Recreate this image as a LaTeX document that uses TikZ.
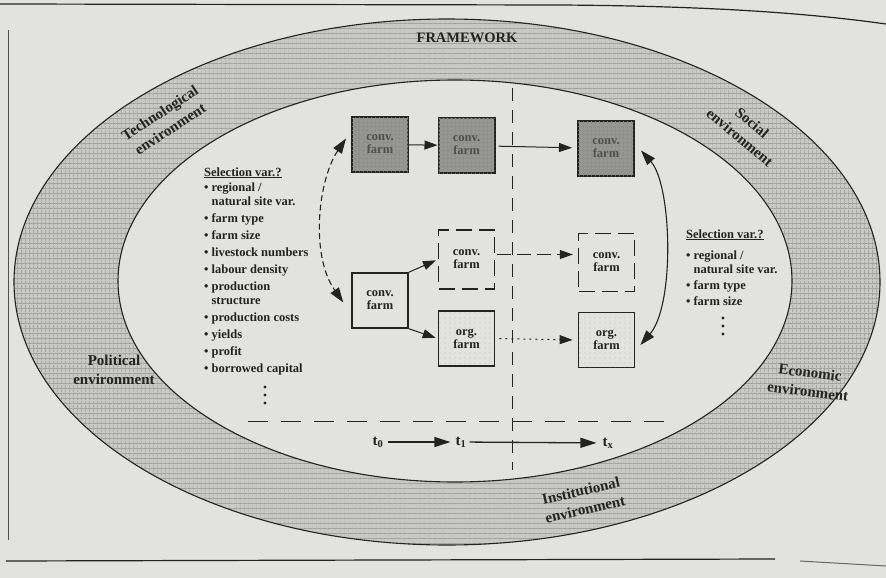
\documentclass[tikz,border=0pt]{standalone}
\usepackage{fontspec}
\setmainfont{Liberation Serif}
\usetikzlibrary{arrows.meta,patterns.meta,calc}
\definecolor{paper}{RGB}{226,226,224}
\definecolor{ring}{RGB}{200,200,198}
\definecolor{ringline}{RGB}{145,145,143}
\definecolor{boxdark}{RGB}{150,150,148}
\definecolor{ink}{RGB}{35,35,35}
\tikzset{
  lab/.style={font=\bfseries\fontsize{15}{19}\selectfont, align=center, text=ink, inner sep=0pt},
  farmtxt/.style={font=\bfseries\fontsize{12.5}{13}\selectfont, align=center, text=ink},
  boxbase/.style={farmtxt, minimum width=56pt, minimum height=55pt, inner sep=0pt},
  darkbox/.style={boxbase, draw=ink, line width=2pt, fill=boxdark, text=ink!80,
    postaction={pattern={Hatch[angle=0,distance=4pt,line width=0.6pt]}, pattern color=black!45}},
  plainbox/.style={boxbase, draw=ink, line width=1.4pt},
  dashbox/.style={boxbase, draw=ink, line width=1.4pt, dash pattern=on 16pt off 7pt},
  orgbox/.style={boxbase, draw=ink, line width=1.8pt,
    postaction={pattern={Dots[distance=5pt,radius=0.45pt]}, pattern color=black!45}},
  listtxt/.style={font=\bfseries\fontsize{12.5}{14}\selectfont, text=ink, inner sep=0pt, anchor=base west},
  arr/.style={-{Triangle[length=13pt,width=9pt]}, line width=1pt, draw=ink},
  tarr/.style={-{Triangle[length=16pt,width=10pt]}, line width=1.3pt, draw=ink},
  bigarr/.style={{Triangle[length=15pt,width=10pt]}-{Triangle[length=15pt,width=10pt]}, line width=1.1pt, draw=ink},
  tlab/.style={font=\bfseries\fontsize{15}{16}\selectfont, text=ink, inner sep=2pt},
  dotmark/.style={ink}
}
\begin{document}
\begin{tikzpicture}[x=1pt,y=-1pt]
\useasboundingbox (0,0) rectangle (886,578);
\fill[paper] (0,0) rectangle (886,578);

% page rules of the scan
\draw[line width=1.2pt, ink] (0,4) -- (560,5) .. controls (700,6) and (800,12) .. (886,24);
\draw[line width=0.8pt, ink!80] (8,30) -- (8,540);
\draw[line width=1.2pt, ink] (6,561) -- (775,559);
\draw[line width=1pt, ink!70] (800,561) -- (886,566);

% environment ring
\fill[ring, even odd rule] (447,282) ellipse [x radius=433pt, y radius=263pt]
                           (455,281) ellipse [x radius=337pt, y radius=201pt];
\path[even odd rule, pattern={Lines[angle=90,distance=4pt,line width=0.75pt]}, pattern color=ringline]
     (447,282) ellipse [x radius=433pt, y radius=263pt]
     (455,281) ellipse [x radius=337pt, y radius=201pt];
\path[even odd rule, pattern={Lines[angle=0,distance=5pt,line width=0.55pt]}, pattern color=ringline!85]
     (447,282) ellipse [x radius=433pt, y radius=263pt]
     (455,281) ellipse [x radius=337pt, y radius=201pt];
\draw[ink, line width=1.1pt] (447,282) ellipse [x radius=433pt, y radius=263pt];
\draw[ink, line width=1.1pt] (455,281) ellipse [x radius=337pt, y radius=201pt];

% ring labels
\node[lab] (fw) at (467,38) {\fontsize{14.5}{16}\selectfont FRAMEWORK};
\node[lab, rotate=33] (tech) at (165,121) {Technological\\environment};
\node[lab, rotate=-40] (soc) at (746,130) {Social\\environment};
\node[lab] (pol) at (114,370) {Political\\environment};
\node[lab, rotate=-7] (eco) at (809,382) {Economic\\environment};
\node[lab, rotate=13] (inst) at (583,500) {Institutional\\environment};

% separators
\coordinate (vtop) at (512,88);
\coordinate (vbot) at (512,470);
\draw[ink, line width=1pt, dash pattern=on 13pt off 9pt] (vtop) -- (vbot);
\coordinate (hl) at (248,421);
\coordinate (hr) at (668,421);
\draw[ink, line width=1pt, dash pattern=on 20pt off 13pt] (hl) -- (hr);

% farm boxes
\node[darkbox] (c1) at (380,144.5) {conv.\\farm};
\node[darkbox] (c2) at (466.5,145.5) {conv.\\farm};
\node[darkbox] (c3) at (606,148.5) {conv.\\farm};
\node[plainbox] (s0) at (380,300.5) {conv.\\farm};
\node[dashbox, minimum height=59pt] (m1) at (466.5,259.5) {conv.\\farm};
\node[orgbox] (o1) at (466.5,338.5) {org.\\farm};
\node[dashbox, minimum height=58pt] (m2) at (606.5,262.5) {conv.\\farm};
\node[orgbox] (o2) at (606.5,340) {org.\\farm};

% flows between boxes
\draw[arr] (c1) -- (c2);
\draw[arr, shorten <=3pt, shorten >=5pt] (c2) -- (c3);
\draw[arr, shorten >=2pt] (s0.north east) -- (m1.west);
\draw[arr, shorten >=2pt] (s0.south east) -- (o1.west);
\draw[arr, dash pattern=on 14pt off 6pt, shorten >=5pt]
     ($(m1.east)+(2,-5)$) -- ($(m2.west)+(0,-8)$);
\draw[arr, dash pattern=on 2pt off 4pt, shorten <=4pt, shorten >=5pt] (o1.east) -- (o2.west);

% curved arrows
\draw[bigarr, dash pattern=on 6pt off 3.5pt]
     ($(c1.west)+(-5,-6)$) .. controls (318,180) and (310,255) .. ($(s0.west)+(-8,2)$);
\draw[bigarr]
     ($(c3.east)+(6,2)$) .. controls (672,185) and (675,305) .. ($(o2.east)+(5,5)$);

% time axis
\node[tlab] (t0) at (378,442) {t\textsubscript{0}};
\node[tlab] (t1) at (461,442) {t\textsubscript{1}};
\node[tlab] (tx) at (608,443) {t\textsubscript{x}};
\draw[tarr, shorten <=2pt, shorten >=3pt] (t0) -- (t1);
\draw[tarr, shorten <=1pt, shorten >=4pt] (t1) -- (tx);

% selection variables, left
\node[listtxt] (selL) at (204,176) {%
\begin{tabular}[t]{@{}l@{\hspace{3pt}}l@{}}
\multicolumn{2}{@{}l@{}}{\underline{Selection var.?}}\\[1pt]
\textbullet & regional /\\
 & natural site var.\\[3pt]
\textbullet & farm type\\[3pt]
\textbullet & farm size\\[3pt]
\textbullet & livestock numbers\\[3pt]
\textbullet & labour density\\[3pt]
\textbullet & production\\
 & structure\\[3pt]
\textbullet & production costs\\[3pt]
\textbullet & yields\\[3pt]
\textbullet & profit\\[3pt]
\textbullet & borrowed capital
\end{tabular}};
\foreach \yy in {387,395,403} \fill[dotmark] (265,\yy) circle [radius=1.7pt];

% selection variables, right
\node[listtxt] (selR) at (686,238) {%
\begin{tabular}[t]{@{}l@{\hspace{3pt}}l@{}}
\multicolumn{2}{@{}l@{}}{\underline{Selection var.?}}\\[7pt]
\textbullet & regional /\\
 & natural site var.\\[2pt]
\textbullet & farm type\\[2pt]
\textbullet & farm size
\end{tabular}};
\foreach \yy in {318,326,334} \fill[dotmark] (723,\yy) circle [radius=1.7pt];
\end{tikzpicture}
\end{document}
